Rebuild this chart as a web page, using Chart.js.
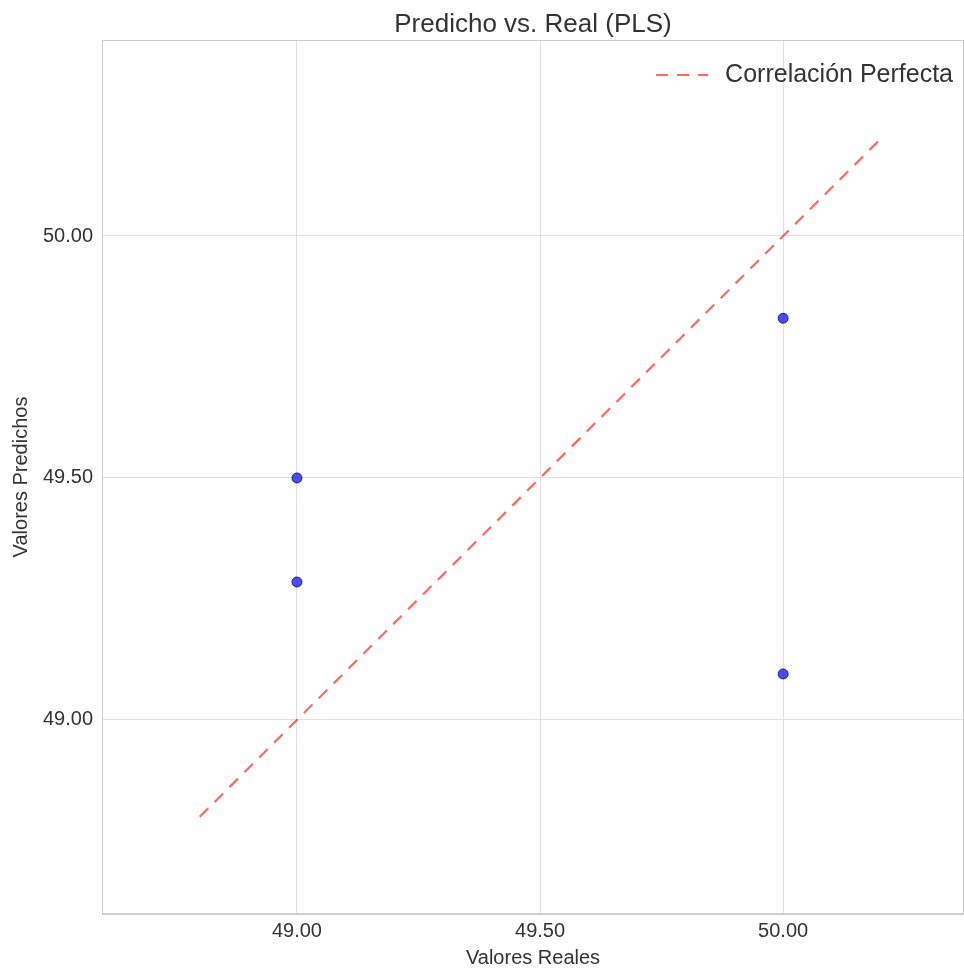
<!DOCTYPE html>
<html>
<head>
<meta charset="utf-8">
<script src="https://cdn.jsdelivr.net/npm/chart.js@4/dist/chart.umd.min.js"></script>
<style>
  html, body { margin: 0; padding: 0; background: #fff; overflow: hidden; }
  #wrap { width: 964px; height: 969px; }
  canvas { display: block; }
</style>
</head>
<body>
<div id="wrap"><canvas id="chart" width="964" height="969"></canvas></div>
<script>
// data
const realVals = [49.0, 49.0, 50.0, 50.0];
const predVals = [49.50, 49.285, 49.83, 49.095];
const lineX = [48.8, 50.2];
const lineY = [48.8, 50.2];
const xTicks = [49.0, 49.5, 50.0];
const yTicks = [49.0, 49.5, 50.0];

const FONT = "'Liberation Sans', Arial, sans-serif";
const TEXT = '#333333';

// title + legend drawn inside/over the plot area, frame round it
const extras = {
  id: 'extras',
  afterDraw(chart) {
    const { ctx, chartArea } = chart;
    ctx.save();
    // frame
    ctx.strokeStyle = '#cccccc';
    ctx.lineWidth = 1;
    ctx.strokeRect(chartArea.left + 0.5, chartArea.top + 0.5,
      chartArea.right - chartArea.left - 1, chartArea.bottom - chartArea.top - 1);
    // title
    ctx.fillStyle = TEXT;
    ctx.font = '26px ' + FONT;
    ctx.textAlign = 'center';
    ctx.textBaseline = 'middle';
    ctx.fillText('Predicho vs. Real (PLS)', (chartArea.left + chartArea.right) / 2, 25);
    // legend
    const ds = chart.data.datasets[0];
    ctx.font = '25px ' + FONT;
    ctx.textAlign = 'right';
    const tx = chartArea.right - 11;
    const ty = chartArea.top + 35;
    ctx.fillText(ds.label, tx, ty);
    const w = ctx.measureText(ds.label).width;
    ctx.strokeStyle = ds.borderColor;
    ctx.lineWidth = ds.borderWidth;
    ctx.setLineDash(ds.borderDash);
    ctx.beginPath();
    ctx.moveTo(tx - w - 69, ty);
    ctx.lineTo(tx - w - 17, ty);
    ctx.stroke();
    ctx.restore();
  }
};

new Chart(document.getElementById('chart'), {
  type: 'scatter',
  data: {
    datasets: [
      {
        type: 'line',
        label: 'Correlación Perfecta',
        data: lineX.map((x, i) => ({ x, y: lineY[i] })),
        borderColor: 'rgba(255, 0, 0, 0.6)',
        borderWidth: 2.2,
        borderDash: [12, 9],
        pointRadius: 0,
        fill: false,
        order: 2,
      },
      {
        label: 'Datos',
        data: realVals.map((x, i) => ({ x, y: predVals[i] })),
        backgroundColor: 'rgba(0, 0, 255, 0.7)',
        borderColor: 'rgba(0, 0, 60, 0.75)',
        borderWidth: 1,
        pointRadius: 5,
        order: 1,
      },
    ],
  },
  options: {
    responsive: false,
    animation: false,
    layout: { autoPadding: false, padding: { top: 40, left: 0, right: 0, bottom: 0 } },
    plugins: {
      legend: { display: false },
      title: { display: false },
      tooltip: { enabled: false },
    },
    scales: {
      x: {
        type: 'linear',
        min: 48.599,
        max: 50.372,
        afterBuildTicks: (s) => { s.ticks = xTicks.map((v) => ({ value: v })); },
        afterFit: (s) => { s.height = 55; s.paddingLeft = 0; s.paddingRight = 0; },
        grid: { color: '#e0e0e0', drawTicks: false },
        border: { color: '#cccccc' },
        ticks: {
          padding: 5,
          color: TEXT,
          font: { family: FONT, size: 20 },
          callback: (v) => v.toFixed(2),
        },
        title: {
          display: true,
          text: 'Valores Reales',
          color: TEXT,
          font: { family: FONT, size: 20, lineHeight: 1 },
          padding: { top: 0, bottom: 1 },
        },
      },
      y: {
        type: 'linear',
        min: 48.599,
        max: 50.405,
        afterBuildTicks: (s) => { s.ticks = yTicks.map((v) => ({ value: v })); },
        afterFit: (s) => { s.width = 102; s.paddingTop = 0; s.paddingBottom = 0; },
        grid: { color: '#e0e0e0', drawTicks: false },
        border: { color: '#cccccc' },
        ticks: {
          padding: 9,
          color: TEXT,
          font: { family: FONT, size: 20 },
          callback: (v) => v.toFixed(2),
        },
        title: {
          display: true,
          text: 'Valores Predichos',
          color: TEXT,
          font: { family: FONT, size: 20, lineHeight: 1 },
          padding: { top: 11, bottom: 0 },
        },
      },
    },
  },
  plugins: [extras],
});
</script>
</body>
</html>
